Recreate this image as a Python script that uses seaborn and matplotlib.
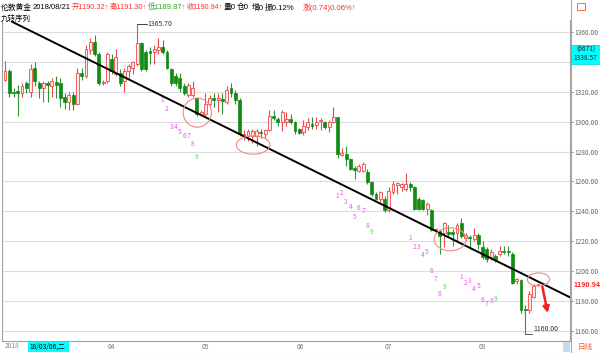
import numpy as np
import pandas as pd
import matplotlib
matplotlib.use("Agg")
import matplotlib.pyplot as plt
from matplotlib.patches import Ellipse, Rectangle
from matplotlib.lines import Line2D
import seaborn as sns

# 日K线数据 (伦敦金 2018/03/06 - 2018/08/21), 近似值
opens = [1328.3, 1334.0, 1320.2, 1320.8, 1319.1, 1326.0, 1320.2, 1336.3, 1326.0, 1322.5,
         1326.0, 1323.7, 1326.5, 1326.0, 1316.8, 1313.3, 1317.9, 1312.2, 1332.9, 1330.6,
         1347.8, 1353.6, 1345.5, 1326.0, 1327.1, 1342.1, 1331.7, 1332.9, 1327.1, 1334.0,
         1336.3, 1338.6, 1352.9, 1346.7, 1347.2, 1346.7, 1347.8, 1350.1, 1346.7, 1335.2,
         1330.6, 1329.4, 1323.7, 1317.9, 1317.9, 1315.6, 1305.3, 1305.3, 1312.2, 1315.6,
         1314.3, 1315.1, 1313.3, 1322.5, 1319.1, 1314.5, 1290.3, 1290.3, 1290.3, 1290.3,
         1293.1, 1291.5, 1294.5, 1304.1, 1301.8, 1299.5, 1299.5, 1301.8, 1299.5, 1294.9,
         1293.1, 1296.6, 1298.2, 1297.7, 1300.5, 1300.0, 1296.6, 1300.0, 1303.0, 1277.6,
         1278.2, 1274.9, 1268.7, 1267.1, 1267.1, 1266.0, 1259.3, 1251.6, 1248.4, 1248.4,
         1240.7, 1252.7, 1257.8, 1256.0, 1254.9, 1258.2, 1256.0, 1248.4, 1247.3, 1241.8,
         1240.7, 1227.2, 1226.5, 1225.4, 1225.9, 1225.9, 1225.4, 1232.0, 1222.2, 1222.8,
         1221.1, 1224.3, 1215.7, 1214.6, 1209.3, 1210.3, 1211.3, 1213.5, 1213.5, 1211.3,
         1193.2, 1193.6, 1174.5, 1174.0, 1182.6, 1190.32]
highs = [1340.9, 1335.2, 1322.5, 1324.8, 1326.0, 1327.1, 1338.6, 1339.8, 1327.1, 1327.1,
         1327.1, 1329.4, 1330.6, 1329.4, 1319.1, 1320.2, 1320.2, 1336.3, 1336.3, 1351.3,
         1355.9, 1358.2, 1346.7, 1328.3, 1346.7, 1345.5, 1349.0, 1335.2, 1336.3, 1338.6,
         1340.9, 1365.7, 1353.6, 1347.8, 1350.1, 1351.3, 1355.9, 1354.7, 1347.8, 1336.3,
         1332.9, 1332.9, 1326.0, 1326.0, 1327.1, 1316.8, 1307.6, 1319.1, 1317.9, 1319.1,
         1319.1, 1319.1, 1323.7, 1326.0, 1321.4, 1315.6, 1294.5, 1294.9, 1294.9, 1294.9,
         1294.9, 1295.4, 1307.6, 1307.6, 1303.0, 1307.6, 1306.4, 1305.3, 1300.7, 1296.1,
         1301.1, 1302.3, 1303.4, 1303.4, 1302.3, 1300.7, 1301.1, 1309.9, 1303.4, 1282.3,
         1283.9, 1276.0, 1270.4, 1271.6, 1272.7, 1268.2, 1260.4, 1252.7, 1253.8, 1250.5,
         1256.0, 1260.4, 1259.3, 1258.7, 1265.8, 1259.3, 1257.1, 1249.5, 1248.4, 1246.2,
         1241.8, 1228.7, 1227.6, 1233.0, 1231.1, 1228.3, 1232.0, 1235.2, 1225.4, 1224.3,
         1228.7, 1225.4, 1220.0, 1215.7, 1214.6, 1211.3, 1216.8, 1216.8, 1216.8, 1212.4,
         1195.3, 1194.3, 1177.2, 1186.8, 1191.1, 1191.30]
lows = [1327.1, 1316.8, 1316.8, 1304.1, 1316.8, 1319.1, 1316.8, 1323.7, 1315.6, 1313.3,
        1313.3, 1316.8, 1315.6, 1309.9, 1308.7, 1307.6, 1307.6, 1311.0, 1328.3, 1329.4,
        1345.5, 1344.4, 1324.8, 1324.8, 1326.0, 1331.7, 1330.6, 1323.7, 1320.2, 1329.4,
        1331.7, 1337.5, 1334.0, 1334.0, 1338.6, 1338.6, 1345.5, 1345.5, 1335.2, 1323.7,
        1323.7, 1320.2, 1317.9, 1316.8, 1316.8, 1304.1, 1304.6, 1304.1, 1311.0, 1309.9,
        1306.4, 1305.3, 1312.2, 1316.8, 1312.2, 1290.3, 1288.0, 1286.9, 1285.7, 1283.4,
        1289.2, 1289.2, 1293.8, 1301.4, 1297.2, 1293.8, 1297.2, 1298.4, 1291.5, 1291.5,
        1290.8, 1294.3, 1295.4, 1295.4, 1294.3, 1295.4, 1293.1, 1298.9, 1275.6, 1277.1,
        1270.4, 1267.6, 1261.6, 1266.0, 1266.0, 1258.2, 1250.5, 1247.3, 1246.2, 1239.6,
        1239.6, 1251.6, 1251.6, 1253.8, 1253.8, 1253.8, 1241.1, 1240.7, 1240.7, 1237.4,
        1226.5, 1225.4, 1211.3, 1215.7, 1222.4, 1216.8, 1220.0, 1222.2, 1220.0, 1214.6,
        1220.0, 1214.6, 1208.2, 1206.0, 1207.1, 1206.0, 1210.3, 1211.3, 1210.3, 1191.1,
        1191.1, 1171.9, 1160.0, 1171.9, 1181.5, 1189.87]
closes = [1334.0, 1319.1, 1319.5, 1319.1, 1323.7, 1322.5, 1335.2, 1327.1, 1322.5, 1326.0,
          1324.4, 1327.1, 1324.8, 1315.6, 1313.3, 1317.9, 1312.2, 1332.9, 1330.6, 1349.0,
          1353.6, 1345.5, 1326.0, 1326.7, 1345.5, 1334.0, 1343.2, 1326.0, 1334.0, 1337.5,
          1339.8, 1352.9, 1335.2, 1335.2, 1346.2, 1349.0, 1350.1, 1346.7, 1336.3, 1326.0,
          1326.0, 1322.5, 1319.1, 1324.8, 1322.5, 1305.3, 1306.4, 1312.2, 1315.6, 1314.5,
          1315.6, 1314.0, 1321.4, 1319.1, 1314.5, 1291.5, 1291.5, 1293.8, 1293.8, 1293.8,
          1292.2, 1294.5, 1304.1, 1302.5, 1299.5, 1306.4, 1301.8, 1299.5, 1293.8, 1292.6,
          1297.0, 1300.0, 1297.2, 1300.0, 1301.1, 1296.6, 1300.0, 1303.0, 1278.7, 1279.3,
          1274.9, 1268.2, 1267.8, 1270.4, 1271.6, 1259.3, 1251.6, 1248.4, 1252.7, 1240.7,
          1253.8, 1258.2, 1258.7, 1258.2, 1258.2, 1256.0, 1241.8, 1241.8, 1241.8, 1245.1,
          1227.6, 1228.0, 1223.3, 1232.0, 1225.0, 1225.0, 1230.9, 1223.3, 1224.3, 1222.0,
          1224.3, 1217.8, 1209.3, 1208.2, 1212.4, 1207.1, 1213.5, 1212.8, 1212.4, 1192.1,
          1194.3, 1174.0, 1173.6, 1184.7, 1190.0, 1190.94]

# 月份刻度 (K线序号)
month_ticks = [24, 46, 68.5, 89, 111]
month_labels = ["04", "05", "06", "07", "08"]
price_ticks = [1160, 1180, 1200, 1220, 1240, 1260, 1280, 1300, 1320, 1340, 1360]

# 趋势线
trend_x = [1.6, 132.5]
trend_y = [1367.1, 1182.3]

# 九转序列: 起始K线序号, 数字位置价格
td_starts = [37, 78, 95, 107]
td_prices = [
    [1314.6, 1308.4, 1296.7, 1296.3, 1293.3, 1290.4, 1290.4, 1285.1, 1276.6],
    [1250.2, 1252.4, 1246.0, 1243.0, 1236.3, 1242.4, 1240.2, 1230.3, 1225.9],
    [1221.9, 1215.7, 1215.9, 1210.8, 1212.5, 1199.6, 1194.7, 1184.6, 1188.9],
    [1196.1, 1191.7, 1193.2, 1187.6, 1189.8, 1180.5, 1177.8, 1180.0, 1180.9],
]

# 手画的圆圈 (中心序号, 中心价格, 宽, 高)
circles = [(45.1, 1306.1, 6.6, 19.5), (58.2, 1284.4, 7.9, 12.3),
           (104.4, 1221.2, 7.5, 15.4), (125.1, 1194.3, 5.2, 8.7)]

RED = "#f04848"
GREEN = "#138a13"
W, H = 600, 353


def fx(x):
    return x / W


def fy(y):
    return 1 - y / H


sns.set_style("white")
plt.rcParams['font.family'] = ['Noto Sans CJK SC', 'DejaVu Sans']
plt.rcParams['axes.unicode_minus'] = False

fig = plt.figure(figsize=(6, 3.53), dpi=100)
ax = fig.add_axes([fx(2), fy(341), 568 / W, 321 / H])
ax.set_xlim(-0.7, 132.5)
ax.set_ylim(1153.0, 1368.2)

df = pd.DataFrame({"open": opens, "high": highs, "low": lows, "close": closes})
df["i"] = np.arange(len(df))
up = df[df.close >= df.open]
dn = df[df.close < df.open]

# 影线
ax.vlines(up.i, up.low, up.high, color=RED, lw=0.8, zorder=2)
ax.vlines(dn.i, dn.low, dn.high, color="#2e962e", lw=0.8, zorder=2)
# 实体
ax.bar(up.i, np.maximum(up.close - up.open, 0.5), bottom=up.open, width=0.68,
       facecolor="#ffecec", edgecolor=RED, lw=0.6, zorder=3)
ax.bar(dn.i, np.minimum(dn.close - dn.open, -0.5), bottom=dn.open, width=0.68,
       facecolor=GREEN, edgecolor=GREEN, lw=0.5, zorder=3)

# 趋势线
sns.lineplot(x=trend_x, y=trend_y, color="black", lw=1.4, ax=ax, zorder=4)

# 圆圈
for cx, cy, w, h in circles:
    ax.add_patch(Ellipse((cx, cy), w, h, fill=False, edgecolor="#f08a8a", lw=0.8, zorder=5))

# 九转序列数字
for start, prices in zip(td_starts, td_prices):
    for k, p in enumerate(prices):
        c = "#55d855" if k == 8 else "#ee55ee"
        ax.text(start + k, p, str(k + 1), color=c, fontsize=4.8, ha="center", va="center")

# 红色箭头
ax.annotate("", xy=(127.4, 1169.9), xytext=(125.9, 1191.1),
            arrowprops=dict(arrowstyle="-|>", color="#ee2222", lw=1.8, mutation_scale=9))

# 最高/最低 标注
ax.plot([31, 33.2], [1365.7, 1365.7], color="#444444", lw=0.7)
ax.text(33.4, 1365.7, "1365.70", fontsize=5, color="#333333", va="center", ha="left")
ax.plot([122, 122, 123.6], [1160.0, 1157.4, 1157.4], color="#555555", lw=0.7)
ax.text(123.9, 1161.3, "1160.00", fontsize=5, color="#333333", va="center", ha="left")

# 坐标轴
ax.grid(axis="y", color="#dcdcdc", lw=0.8)
ax.set_axisbelow(True)
ax.yaxis.tick_right()
ax.set_yticks(price_ticks)
# 1340 的标签被光标价格框盖住
ax.set_yticklabels(["" if v == 1340 else f"{v:.2f}" for v in price_ticks])
ax.tick_params(axis="y", length=2.5, width=0.6, pad=0.8, labelsize=4.8,
               colors="#666666", right=True, left=False)
ax.set_xticks(month_ticks)
ax.set_xticklabels(month_labels)
ax.set_xticks([m + d for m in [3] + month_ticks for d in (5, 10, 15) if m + d < 124], minor=True)
ax.tick_params(axis="x", which="major", length=3, width=0.6, pad=-1.5,
               labelsize=4.8, colors="#777777")
ax.tick_params(axis="x", which="minor", length=2, width=0.6, colors="#999999")
for lbl in ax.get_xticklabels():
    lbl.set_ha("left")
for s in ["left", "right", "bottom"]:
    ax.spines[s].set_color("#a0a0a0")
    ax.spines[s].set_linewidth(0.8)
ax.spines["top"].set_visible(False)
ax.set_xlabel("")
ax.set_ylabel("")

# 右侧当前价 / 光标价
ax.text(1.006, 1190.94, "1190.94", transform=ax.get_yaxis_transform(), color="#ff2a2a",
        fontsize=5, fontweight="bold", va="center", ha="left", clip_on=False)
fig.add_artist(Rectangle((fx(571), fy(64)), 29 / W, 19 / H, transform=fig.transFigure,
                         facecolor="#00ffff", edgecolor="#00cccc", lw=0.5, zorder=5))
fig.text(fx(585.5), fy(49.5), "(6671)", fontsize=4.8, ha="center", va="center", zorder=6)
fig.text(fx(585.5), fy(58), "1338.57", fontsize=4.8, ha="center", va="center", zorder=6)

# 分隔线与底栏
fig.add_artist(Line2D([fx(570.5), fx(570.5)], [0, 1], color="#aaaaaa", lw=0.8))
fig.add_artist(Line2D([fx(2), fx(600)], [fy(352.5), fy(352.5)], color="#bbbbbb", lw=0.8))
fig.text(fx(5), fy(346.5), "2018", fontsize=4.8, color="#888888", va="center")
fig.add_artist(Rectangle((fx(28), fy(352)), 41 / W, 10 / H, transform=fig.transFigure,
                         facecolor="#00ffff", edgecolor="none", zorder=5))
fig.text(fx(29), fy(346.5), "18/03/06,二", fontsize=4.8, color="black", va="center", zorder=6)
fig.add_artist(Rectangle((fx(563), fy(352)), 7 / W, 10 / H, transform=fig.transFigure,
                         facecolor="#c5daf0", edgecolor="none"))
fig.text(fx(578), fy(346.5), "日线", fontsize=5.5, color="#e8602c", va="center")
fig.add_artist(Rectangle((fx(577), fy(10)), 8 / W, 7 / H, transform=fig.transFigure,
                         facecolor="none", edgecolor="#f07030", lw=0.7))

# 顶部行情信息: 按参考图位置放置, 放不下就缩小字号
header_x = [1, 33, 72, 110, 148, 187, 224, 237, 252, 265, 303]
header_txt = ["伦敦黄金", "2018/08/21", "开1190.32↑", "高1191.30↑", "低1189.87↑",
              "收1190.94↑", "量0", "仓0", "增0", "振0.12%", "涨(0.74)0.06%↑"]
header_col = ["black", "black", "#ff3030", "#ff3030", "#22aa22", "#ff3030",
              "black", "black", "black", "black", "#ff3030"]
head_font = ['Liberation Sans', 'Noto Sans CJK SC', 'DejaVu Sans']
renderer = fig.canvas.get_renderer()
for k, (x, s, c) in enumerate(zip(header_x, header_txt, header_col)):
    room = (header_x[k + 1] - x - 1.0) if k + 1 < len(header_x) else 60
    t = fig.text(fx(x), fy(7.5), s, fontsize=5.6, color=c, va="center", ha="left",
                 family=head_font)
    wpx = t.get_window_extent(renderer).width
    if wpx > room:
        t.set_fontsize(5.6 * room / wpx)
fig.text(fx(1), fy(18.5), "九转序列", fontsize=5.4, color="black", va="center", ha="left")

fig.savefig("out.png", dpi=100)
